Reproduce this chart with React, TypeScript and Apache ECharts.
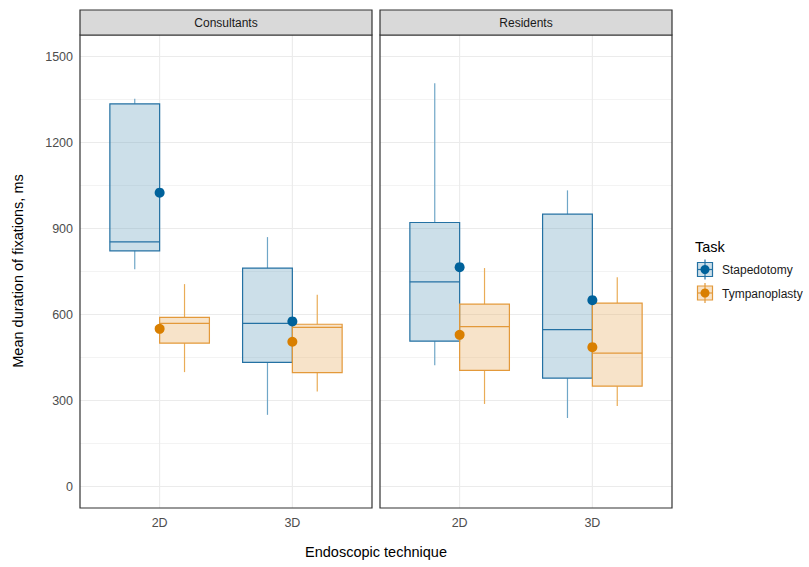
import React, { useEffect, useRef } from "react";
import * as echarts from "echarts";

const techniques = ["2D", "3D"];
const groups = ["Consultants", "Residents"];
const tasks = ["Stapedotomy", "Tympanoplasty"];
// [lower whisker, Q1, median, Q3, upper whisker] for 2D and 3D
const consultantsStapedotomy = [
  [758, 822, 853, 1335, 1353],
  [250, 433, 569, 762, 870],
];
const consultantsTympanoplasty = [
  [399, 500, 569, 590, 706],
  [331, 397, 555, 566, 669],
];
const residentsStapedotomy = [
  [423, 507, 714, 921, 1407],
  [239, 378, 547, 950, 1033],
];
const residentsTympanoplasty = [
  [288, 405, 558, 636, 762],
  [281, 350, 465, 640, 730],
];
const meansConsultantsStapedotomy = [1025, 576];
const meansConsultantsTympanoplasty = [550, 505];
const meansResidentsStapedotomy = [765, 650];
const meansResidentsTympanoplasty = [529, 486];
const yTicks = [0, 300, 600, 900, 1200, 1500];
const yMinor = [150, 450, 750, 1050, 1350];

const FONT = "'Liberation Sans', Arial, sans-serif";
const taskStyle = [
  { point: "#00629B", border: "#2471A3", whisker: "#6FA6C7", fill: "rgba(120,170,197,0.38)" },
  { point: "#D97F00", border: "#E3993A", whisker: "#E9AC57", fill: "rgba(232,176,100,0.35)" },
];
const DODGE = 0.1875;
const BOXW = 0.375;

const panels = [
  { left: 80, width: 292 },
  { left: 380, width: 292 },
];
const PANEL_TOP = 35;
const PANEL_H = 473;

export default function App() {
  const ref = useRef<HTMLDivElement>(null);
  useEffect(() => {
    if (!ref.current) return;
    const chart = echarts.init(ref.current, undefined, { renderer: "svg" });
    const boxData = [
      [consultantsStapedotomy, consultantsTympanoplasty],
      [residentsStapedotomy, residentsTympanoplasty],
    ];
    const meanData = [
      [meansConsultantsStapedotomy, meansConsultantsTympanoplasty],
      [meansResidentsStapedotomy, meansResidentsTympanoplasty],
    ];

    const grids = panels.map((p) => ({
      left: p.left,
      width: p.width,
      top: PANEL_TOP,
      height: PANEL_H,
      containLabel: false,
    }));
    const xAxes = panels.map((_, i) => ({
      type: "value",
      gridIndex: i,
      min: 0.4,
      max: 2.6,
      axisLine: { show: false },
      axisTick: { show: false },
      splitLine: { show: false },
      axisLabel: {
        customValues: [1, 2],
        formatter: (v: number) => techniques[Math.round(v) - 1] ?? "",
        color: "#4D4D4D",
        fontSize: 12.5,
        fontFamily: FONT,
        margin: 8,
      },
    }));
    const yAxes = panels.map((_, i) => ({
      type: "value",
      gridIndex: i,
      min: -75,
      max: 1575,
      axisLine: { show: false },
      axisTick: { show: false },
      splitLine: { show: false },
      axisLabel: {
        show: i === 0,
        customValues: yTicks,
        formatter: (v: number) => String(v),
        color: "#4D4D4D",
        fontSize: 12.5,
        fontFamily: FONT,
        margin: 7,
      },
    }));

    const series: any[] = [];
    panels.forEach((_, gi) => {
      // horizontal grid lines
      series.push({
        type: "custom",
        xAxisIndex: gi,
        yAxisIndex: gi,
        silent: true,
        z: 0,
        data: [...yTicks.map((v) => [v, 1]), ...yMinor.map((v) => [v, 0])],
        renderItem: (params: any, api: any) => {
          const cs = params.coordSys;
          const y = api.coord([1, api.value(0)])[1];
          return {
            type: "line",
            shape: { x1: cs.x, y1: y, x2: cs.x + cs.width, y2: y },
            style: { stroke: "#EBEBEB", lineWidth: api.value(1) ? 1.1 : 0.6 },
          };
        },
      });
      // vertical grid lines
      series.push({
        type: "custom",
        xAxisIndex: gi,
        yAxisIndex: gi,
        silent: true,
        z: 0,
        data: techniques.map((_, k) => [k + 1]),
        renderItem: (params: any, api: any) => {
          const cs = params.coordSys;
          const x = api.coord([api.value(0), 0])[0];
          return {
            type: "line",
            shape: { x1: x, y1: cs.y, x2: x, y2: cs.y + cs.height },
            style: { stroke: "#EBEBEB", lineWidth: 1.1 },
          };
        },
      });
      tasks.forEach((task, ti) => {
        const st = taskStyle[ti];
        const offset = ti === 0 ? -DODGE : DODGE;
        series.push({
          type: "custom",
          name: task,
          xAxisIndex: gi,
          yAxisIndex: gi,
          z: 2 + ti,
          data: boxData[gi][ti].map((b, k) => [k + 1, ...b]),
          renderItem: (params: any, api: any) => {
            const cx = api.value(0) + offset;
            const half = api.size([BOXW, 0])[0] / 2;
            const px = api.coord([cx, 0])[0];
            const yv = (d: number) => api.coord([cx, api.value(d)])[1];
            const low = yv(1), q1 = yv(2), med = yv(3), q3 = yv(4), high = yv(5);
            return {
              type: "group",
              children: [
                { type: "line", shape: { x1: px, y1: q3, x2: px, y2: high }, style: { stroke: st.whisker, lineWidth: 1.2 } },
                { type: "line", shape: { x1: px, y1: q1, x2: px, y2: low }, style: { stroke: st.whisker, lineWidth: 1.2 } },
                {
                  type: "rect",
                  shape: { x: px - half, y: q3, width: half * 2, height: q1 - q3 },
                  style: { fill: st.fill, stroke: st.border, lineWidth: 1.2 },
                },
                { type: "line", shape: { x1: px - half, y1: med, x2: px + half, y2: med }, style: { stroke: st.border, lineWidth: 1.2 } },
              ],
            };
          },
        });
      });
      tasks.forEach((task, ti) => {
        series.push({
          type: "scatter",
          name: task + " mean",
          xAxisIndex: gi,
          yAxisIndex: gi,
          z: 10,
          symbol: "circle",
          symbolSize: 10,
          itemStyle: { color: taskStyle[ti].point, opacity: 1 },
          data: meanData[gi][ti].map((m, k) => [k + 1, m]),
        });
      });
    });

    const graphic: any[] = [];
    panels.forEach((p, i) => {
      graphic.push({
        type: "rect",
        shape: { x: p.left, y: PANEL_TOP, width: p.width, height: PANEL_H },
        style: { fill: "none", stroke: "#333333", lineWidth: 1.2 },
        z: 50,
      });
      graphic.push({
        type: "rect",
        shape: { x: p.left, y: 10, width: p.width, height: PANEL_TOP - 10 },
        style: { fill: "#D9D9D9", stroke: "#333333", lineWidth: 1.2 },
        z: 50,
      });
      graphic.push({
        type: "text",
        x: p.left + p.width / 2,
        y: 22.5,
        z: 51,
        style: {
          text: groups[i],
          fill: "#1A1A1A",
          fontSize: 12,
          fontFamily: FONT,
          align: "center",
          verticalAlign: "middle",
        },
      });
    });
    graphic.push({
      type: "text",
      x: 376,
      y: 552,
      style: { text: "Endoscopic technique", fill: "#000", fontSize: 14.5, fontFamily: FONT, align: "center", verticalAlign: "middle" },
    });
    graphic.push({
      type: "text",
      x: 18,
      y: 271,
      rotation: Math.PI / 2,
      style: { text: "Mean duration of fixations, ms", fill: "#000", fontSize: 14.5, fontFamily: FONT, align: "center", verticalAlign: "middle" },
    });
    graphic.push({
      type: "text",
      x: 695,
      y: 246.5,
      style: { text: "Task", fill: "#000", fontSize: 14.5, fontFamily: FONT, align: "left", verticalAlign: "middle" },
    });
    tasks.forEach((task, ti) => {
      const st = taskStyle[ti];
      const cy = 269.5 + ti * 23.5;
      const cx = 705;
      graphic.push({ type: "rect", shape: { x: cx - 7.5, y: cy - 7, width: 15, height: 14 }, style: { fill: st.fill, stroke: st.border, lineWidth: 1.2 } });
      graphic.push({ type: "line", shape: { x1: cx, y1: cy - 10, x2: cx, y2: cy + 10 }, style: { stroke: st.border, lineWidth: 1.2 } });
      graphic.push({ type: "line", shape: { x1: cx - 7.5, y1: cy, x2: cx + 7.5, y2: cy }, style: { stroke: st.border, lineWidth: 1.2 } });
      graphic.push({ type: "circle", shape: { cx, cy, r: 4.5 }, style: { fill: st.point } });
      graphic.push({
        type: "text",
        x: 722,
        y: cy + 0.5,
        style: { text: task, fill: "#1A1A1A", fontSize: 12, fontFamily: FONT, align: "left", verticalAlign: "middle" },
      });
    });

    chart.setOption({
      animation: false,
      backgroundColor: "#ffffff",
      textStyle: { fontFamily: FONT },
      grid: grids,
      xAxis: xAxes,
      yAxis: yAxes,
      series,
      graphic,
    });
    return () => chart.dispose();
  }, []);
  return (
    <div
      ref={ref}
      style={{ position: "fixed", left: 0, top: 0, width: 809, height: 567 }}
    />
  );
}
